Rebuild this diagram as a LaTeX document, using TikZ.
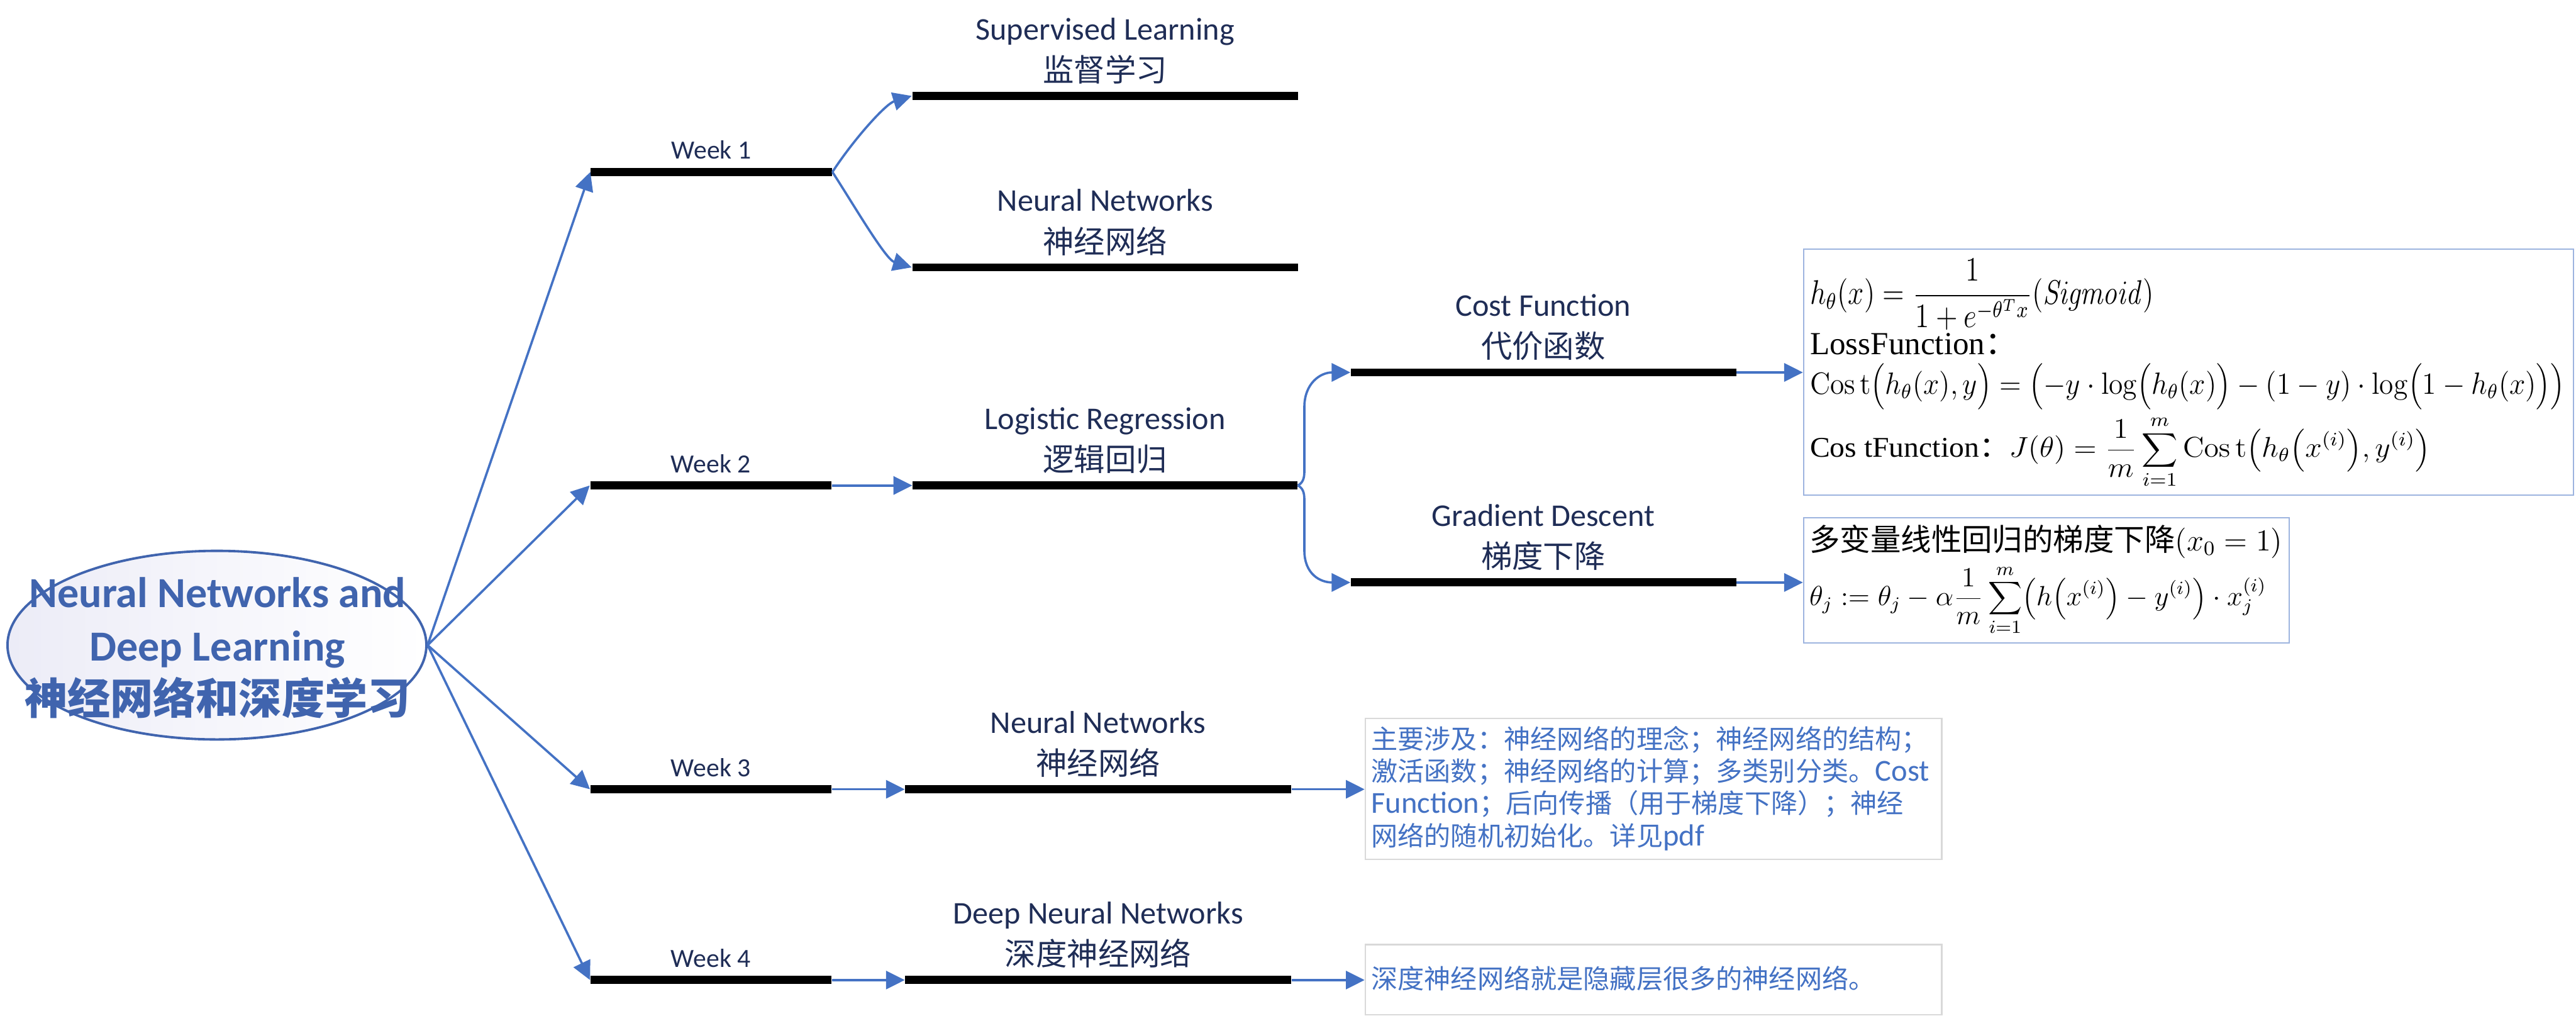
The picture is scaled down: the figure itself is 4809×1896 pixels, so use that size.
\documentclass[tikz,border=0pt]{standalone}
\usepackage[no-math]{fontspec}
\usepackage{graphicx}
\setmainfont{Carlito}
\newfontfamily\cjk{Noto Sans CJK SC}
\newfontfamily\tnr{Liberation Serif}
\usetikzlibrary{arrows.meta,shapes.geometric,calc}
\definecolor{cblue}{HTML}{4472C4}
\definecolor{tblue}{HTML}{4064AE}
\definecolor{navy}{HTML}{1F2D56}
\definecolor{fboxc}{HTML}{9DB4DF}
\definecolor{gboxc}{HTML}{D9D9D9}
\definecolor{ellc}{HTML}{ECECF7}
\tikzset{
  bar/.style={rectangle, fill=black, inner sep=0pt, minimum height=3pt, draw=none},
  conn/.style={draw=cblue, line width=0.85pt, -{Triangle[length=7pt,width=6.8pt]}},
  lab/.style={text=navy, font=\fontsize{11.8}{14}\selectfont, inner sep=0pt, anchor=base},
  cjklab/.style={text=navy, font=\cjk\fontsize{11.6}{14}\selectfont, inner sep=0pt, anchor=base},
  weeklab/.style={text=navy, font=\fontsize{9.8}{12}\selectfont, inner sep=0pt, anchor=base},
  fboxs/.style={rectangle, draw=fboxc, line width=0.5pt, inner sep=0pt},
  gboxs/.style={rectangle, draw=gboxc, line width=0.6pt, inner sep=0pt},
  ftext/.style={inner sep=0pt, anchor=base west, font=\fontsize{12}{14}\selectfont},
  ftop/.style={inner sep=0pt, anchor=north west, font=\fontsize{12}{14}\selectfont},
  btext/.style={inner sep=0pt, anchor=base west, text=cblue, font=\cjk\fontsize{9.9}{12}\selectfont},
}
\newcommand{\lat}[1]{{\rmfamily\fontsize{11.4}{12}\selectfont #1}}
\newcommand{\Cst}{\mathrm{Cos\,t}}
\begin{document}
\begin{tikzpicture}[x=0.2pt,y=-0.2pt]
\fill[white] (0,0) rectangle (4809,1896);
\useasboundingbox (0,0) rectangle (4809,1896);

% central ellipse
\node[ellipse, draw=tblue, line width=0.9pt, minimum width=156.4pt, minimum height=70.4pt,
      inner sep=0pt, left color=ellc, right color=white] (title) at (405,1204) {};
\node[align=center, text=tblue, font=\bfseries\fontsize{16}{20}\selectfont, inner sep=0pt]
  (titleT) at (406,1209) {Neural Networks and\\Deep Learning\\{\cjk\bfseries 神经网络和深度学习}};

% week bars
\node[bar, minimum width=90pt] (w1) at (1328,321) {};
\node[bar, minimum width=90pt] (w2) at (1327,906) {};
\node[bar, minimum width=90pt] (w3) at (1327.5,1473) {};
\node[bar, minimum width=90pt] (w4) at (1327.5,1829) {};
\node[weeklab] (w1t) at (1328,297) {Week 1};
\node[weeklab] (w2t) at (1327,882) {Week 2};
\node[weeklab] (w3t) at (1327,1449) {Week 3};
\node[weeklab] (w4t) at (1327,1805) {Week 4};

% topic bars
\node[bar, minimum width=144pt] (sup) at (2063,179) {};
\node[bar, minimum width=144pt] (nn1) at (2063,499) {};
\node[bar, minimum width=143.6pt] (lr) at (2063,906) {};
\node[bar, minimum width=144pt] (nn3) at (2050,1473) {};
\node[bar, minimum width=144pt] (dnn) at (2050,1829) {};
\node[bar, minimum width=143.8pt] (cost) at (2881.5,695) {};
\node[bar, minimum width=143.8pt] (gd) at (2881.5,1087) {};

\node[lab] (supE) at (2063,74) {Supervised Learning};
\node[cjklab] (supC) at (2063,152) {监督学习};
\node[lab] (nn1E) at (2063,394) {Neural Networks};
\node[cjklab] (nn1C) at (2063,472) {神经网络};
\node[lab] (lrE) at (2063,801) {Logistic Regression};
\node[cjklab] (lrC) at (2063,879) {逻辑回归};
\node[lab] (costE) at (2881,590) {Cost Function};
\node[cjklab] (costC) at (2881,668) {代价函数};
\node[lab] (gdE) at (2881,982) {Gradient Descent};
\node[cjklab] (gdC) at (2881,1060) {梯度下降};
\node[lab] (nn3E) at (2050,1368) {Neural Networks};
\node[cjklab] (nn3C) at (2050,1446) {神经网络};
\node[lab] (dnnE) at (2050,1724) {Deep Neural Networks};
\node[cjklab] (dnnC) at (2050,1802) {深度神经网络};

% boxes
\node[fboxs, minimum width=287.4pt, minimum height=91.8pt] (f1) at (4085.5,694.5) {};
\node[fboxs, minimum width=181.4pt, minimum height=46.8pt] (f2) at (3820.5,1083) {};
\node[gboxs, minimum width=215.2pt, minimum height=52.6pt] (b3) at (3087,1472.5) {};
\node[gboxs, minimum width=215.2pt, minimum height=26.2pt] (b4) at (3087,1828.5) {};

% formula box 1
\node[ftop] (f1a) at (3378,482) {\resizebox*{128.4pt}{26.6pt}{$\displaystyle h_\theta\bigl(x\bigr)=\frac{1}{1+e^{-\theta^{T}x}}\bigl(\mathit{Sigmoid}\bigr)$}};
\node[ftext] (f1b) at (3378,662) {{\tnr LossFunction}{\cjk ：}};
\node[ftop] (f1c) at (3378,677) {\resizebox*{281.8pt}{17.2pt}{$\Cst\Bigl(h_\theta\bigl(x\bigr),y\Bigr)=\Bigl(-y\cdot\log\Bigl(h_\theta\bigl(x\bigr)\Bigr)-\bigl(1-y\bigr)\cdot\log\Bigl(1-h_\theta\bigl(x\bigr)\Bigr)\Bigr)$}};
\node[ftop] (f1d) at (3378,775) {\resizebox*{231.6pt}{27pt}{{\tnr Cos tFunction}{\cjk ：}$\displaystyle J\bigl(\theta\bigr)=\frac{1}{m}\sum_{i=1}^{m}\Cst\Bigl(h_\theta\Bigl(x^{(i)}\Bigr),y^{(i)}\Bigr)$}};

% formula box 2
\node[ftext] (f2a) at (3377,1028) {\resizebox{176.6pt}{!}{{\cjk 多变量线性回归的梯度下降}$\bigl(x_0=1\bigr)$}};
\node[ftop] (f2b) at (3377,1054) {\resizebox*{170.6pt}{26.2pt}{$\displaystyle \theta_j:=\theta_j-\alpha\frac{1}{m}\sum_{i=1}^{m}\Bigl(h\Bigl(x^{(i)}\Bigr)-y^{(i)}\Bigr)\cdot x_j^{(i)}$}};

% text boxes
\node[btext] (b3a) at (2559,1398) {主要涉及：神经网络的理念；神经网络的结构；};
\node[btext] (b3b) at (2559,1458) {激活函数；神经网络的计算；多类别分类。\lat{Cost}};
\node[btext] (b3c) at (2559,1518) {\lat{Function}；后向传播（用于梯度下降）；神经};
\node[btext] (b3d) at (2559,1578) {网络的随机初始化。详见\lat{pdf}};
\node[btext] (b4a) at (2559,1845) {深度神经网络就是隐藏层很多的神经网络。};

% connectors
\draw[conn] (title.east) -- (w1.west);
\draw[conn] (title.east) -- (w2.west);
\draw[conn] (title.east) -- (w3.west);
\draw[conn] (title.east) -- (w4.west);
\draw[conn] (w1.east) .. controls (1593,261) and (1653,194) .. (sup.west);
\draw[conn] (w1.east) .. controls (1593,381) and (1653,484) .. (nn1.west);
\draw[conn] (w2.east) -- (lr.west);
\draw[conn] (lr.east) .. controls (2432,901) and (2435,893) .. (2435,880) -- (2435,760) .. controls (2435,715) and (2465,695) .. (cost.west);
\draw[conn] (lr.east) .. controls (2432,911) and (2435,919) .. (2435,932) -- (2435,1027) .. controls (2435,1072) and (2465,1087) .. (gd.west);
\draw[conn] (cost.east) -- (cost.east -| f1.west);
\draw[conn] (gd.east) -- (gd.east -| f2.west);
\draw[conn] (w3.east) -- (nn3.west);
\draw[conn] (nn3.east) -- (nn3.east -| b3.west);
\draw[conn] (w4.east) -- (dnn.west);
\draw[conn] (dnn.east) -- (dnn.east -| b4.west);
\end{tikzpicture}
\end{document}
